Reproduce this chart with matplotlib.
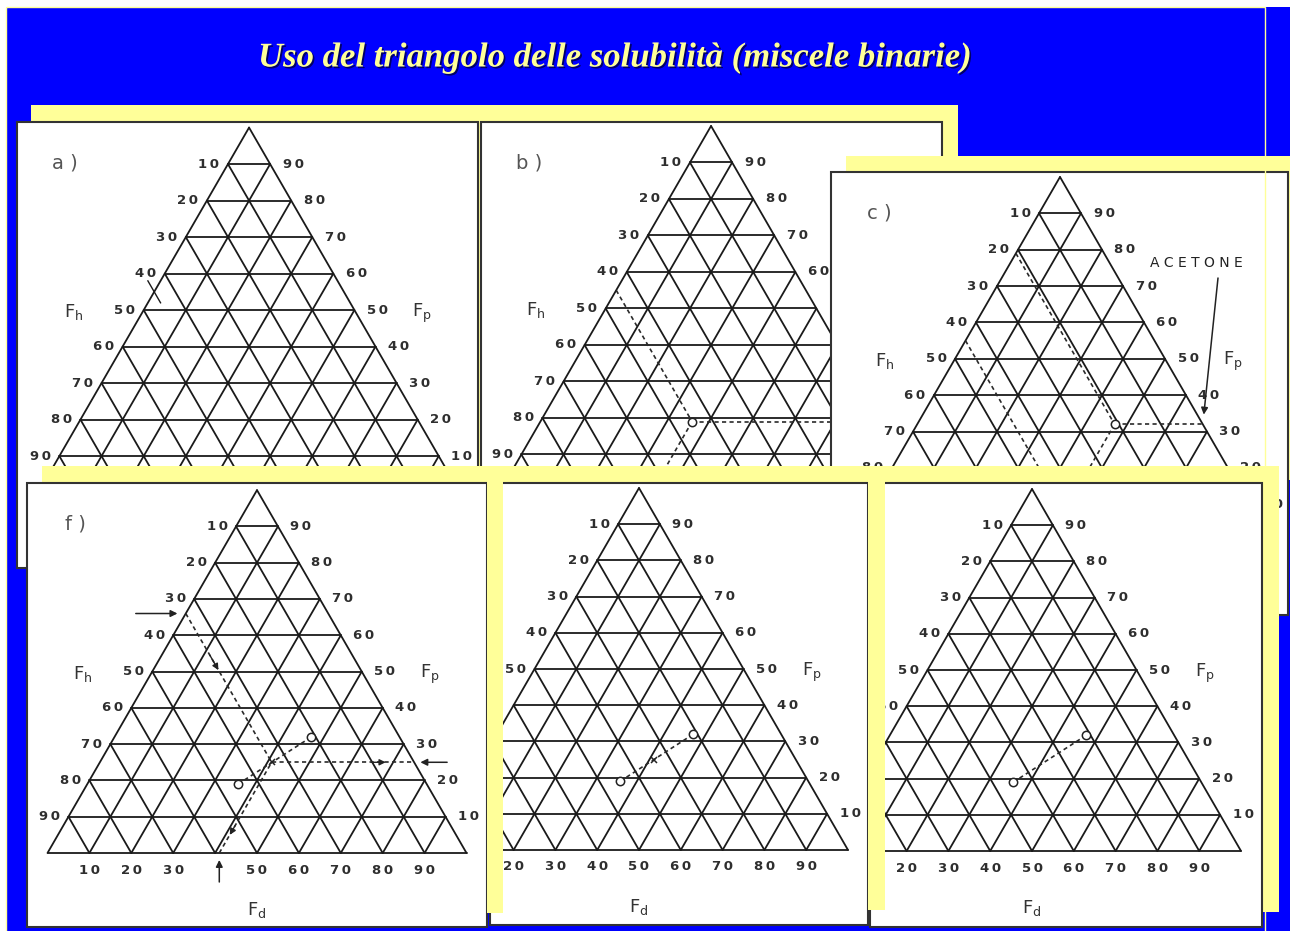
import numpy as np
import matplotlib.pyplot as plt
import matplotlib.patheffects as pe
from matplotlib.patches import Rectangle
from matplotlib.transforms import Affine2D, Bbox, TransformedBbox, offset_copy


# colours of the slide
BLUE = "#0000ff"
YELLOW = "#ffff99"
INK = "#1a1a1a"

TITLE = "Uso del triangolo delle solubilità (miscele binarie)"

# grid values along the three sides (percent)
ticks = [10, 20, 30, 40, 50, 60, 70, 80, 90]

# fractional parameters (Fd, Fp) of the points used in the examples, Fh = 100 - Fd - Fp
acetone = (47, 32)
solvent_2 = (36, 19)
mixture = (41, 25)


def cart(fd, fp):
    return fd + fp / 2.0, fp * np.sqrt(3) / 2.0


def fh(p):
    return 100 - p[0] - p[1]


fig = plt.figure(figsize=(12.9, 9.31), dpi=100)
ax = fig.add_axes([0, 0, 1, 1])
ax.set_xlim(0, 1290)
ax.set_ylim(931, 0)
ax.axis("off")

# slide background
ax.add_patch(Rectangle((6, 7), 1290, 930, facecolor=BLUE, edgecolor="none", zorder=0))
ax.add_patch(Rectangle((6, 7), 1259, 930, facecolor="none", edgecolor=YELLOW, lw=1.0, zorder=5.9))

ax.text(615, 58, TITLE, ha="center", va="center", fontsize=25, family="Liberation Serif",
        style="italic", weight="bold", color=YELLOW, zorder=11,
        path_effects=[pe.withSimplePatchShadow(offset=(1.2, -1.2), shadow_rgbFace="black", alpha=0.6)])


def yellow(x0, y0, x1, y1, z):
    ax.add_patch(Rectangle((x0, y0), x1 - x0, y1 - y0, facecolor=YELLOW, edgecolor="none", zorder=z))


def panel(box, z, base_left, side, letter=None, bottom=ticks, show_fh=True, show_fd=True,
          vis=(0, 1290)):
    x0, y0, x1, y1 = box
    rect = Rectangle((x0, y0), x1 - x0, y1 - y0, facecolor="white", edgecolor="#333333", lw=1.5, zorder=z)
    ax.add_patch(rect)
    s = side / 100.0
    T = Affine2D().scale(s, -s).translate(*base_left) + ax.transData
    arts = []

    def seg(p, q, **kw):
        (xa, ya), (xb, yb) = cart(*p), cart(*q)
        arts.extend(ax.plot([xa, xb], [ya, yb], transform=T, zorder=z + 0.1, **kw))

    grid = dict(color=INK, lw=1.3, solid_capstyle="round")
    for v in ticks:
        seg((0, v), (100 - v, v), **grid)
        seg((v, 0), (v, 100 - v), **grid)
        seg((100 - v, 0), (0, 100 - v), **grid)
    seg((0, 0), (100, 0), **grid)
    seg((100, 0), (0, 100), **grid)
    seg((0, 100), (0, 0), **grid)

    def label(p, txt, dx, dy, **kw):
        # only labels whose centre falls in the uncovered part of the panel
        cx = T.transform(cart(*p))[0]
        px = ax.transData.inverted().transform((cx + dx, 0))[0]
        if vis[0] - 8 <= px <= vis[1] + 8:
            arts.append(ax.text(*cart(*p), txt, transform=offset_copy(T, fig, x=dx, y=dy, units="dots"), **kw))

    num = dict(fontsize=9.5, weight="bold", color="#2e2e2e", ha="center", va="center", zorder=z + 0.2)
    for v in ticks:
        lab = f"{v // 10}\u2009{v % 10}"
        label((0, 100 - v), lab, -19, 0, **num)
        label((100 - v, v), lab, 23, 0, **num)
        if v in bottom:
            label((v, 0), lab, 0, -17, **num)

    big = dict(fontsize=13, color="#333333", ha="center", va="center", zorder=z + 0.2)
    if show_fh:
        label((0, 50), r"F$_\mathregular{h}$", -70, -2, **big)
    label((50, 50), r"F$_\mathregular{p}$", 68, -3, **big)
    if show_fd:
        label((50, 0), r"F$_\mathregular{d}$", 0, -57, **big)

    if letter:
        arts.append(ax.text(x0 + 48, y0 + 41, letter, fontsize=14, color="#555555",
                            ha="center", va="center", zorder=z + 0.2))
    return T, rect, arts


def dashed(T, z, p, q):
    (xa, ya), (xb, yb) = cart(*p), cart(*q)
    return ax.plot([xa, xb], [ya, yb], transform=T, color="#2a2a2a", lw=1.2,
                   linestyle=(0, (2.5, 2)), zorder=z + 0.3)


def circle(T, z, p):
    return ax.plot(*cart(*p), "o", transform=T, ms=6, mfc="white", mec="#222222", mew=1.1, zorder=z + 0.4)


def cross(T, z, p):
    return ax.plot(*cart(*p), "x", transform=T, ms=5, color="#222222", mew=1.1, zorder=z + 0.4)


def head(T, z, p, q, t0, t1):
    (xa, ya), (xb, yb) = cart(*p), cart(*q)
    a = (xa + (xb - xa) * t0, ya + (yb - ya) * t0)
    b = (xa + (xb - xa) * t1, ya + (yb - ya) * t1)
    return ax.annotate("", xy=b, xycoords=T, xytext=a, textcoords=T, zorder=z + 0.4,
                       arrowprops=dict(arrowstyle="-|>", color="#222222", lw=1.0,
                                       mutation_scale=9, shrinkA=0, shrinkB=0))


def clip(arts, rect):
    box = TransformedBbox(Bbox.from_extents(*rect.get_bbox().extents), ax.transData)
    for a in arts:
        if isinstance(a, list):
            clip(a, rect)
            continue
        a.set_clip_on(True)
        a.set_clip_box(box)
        if hasattr(a, "arrow_patch") and a.arrow_patch is not None:
            a.arrow_patch.set_clip_box(box)


# top row
yellow(31, 105, 958, 480, 1)

# a) empty grid
Ta, ra, arts = panel((17, 122, 478, 568), 2, (38.3, 492.6), 421.5, "a )", bottom=(), show_fd=False)
arts.extend(ax.plot(*zip(cart(-3, 58), cart(3, 52)), transform=Ta, color=INK, lw=1.0, zorder=2.3))
clip(arts, ra)

# b) second solvent
Tb, rb, arts = panel((481, 122, 942, 568), 3, (500.3, 491.0), 421.5, "b )", bottom=(), show_fd=False,
                     vis=(481, 831))
arts += [dashed(Tb, 3, (0, 100 - fh(solvent_2)), solvent_2),
         dashed(Tb, 3, solvent_2, (100 - solvent_2[1], solvent_2[1])),
         dashed(Tb, 3, solvent_2, (solvent_2[0], 0)),
         circle(Tb, 3, solvent_2)]
clip(arts, rb)

# c) acetone
yellow(846, 156, 1290, 480, 4)
Tc, rc, arts = panel((831, 172, 1288, 615), 5, (850.0, 540.7), 420, "c )", bottom=(90,), show_fd=False)
arts += [dashed(Tc, 5, (0, 100 - fh(acetone)), acetone),
         dashed(Tc, 5, acetone, (100 - acetone[1], acetone[1])),
         dashed(Tc, 5, acetone, (acetone[0], 0)),
         dashed(Tc, 5, (0, 100 - fh(solvent_2)), solvent_2),
         circle(Tc, 5, acetone)]
arts.append(ax.text(1196, 263, "A C E T O N E", fontsize=10, color="#222222",
                    ha="center", va="center", zorder=5.5))
arts.append(ax.annotate("", xy=cart(100 - acetone[1], acetone[1]), xycoords=Tc,
                        xytext=(1218, 278), textcoords="data", zorder=5.5,
                        arrowprops=dict(arrowstyle="-|>", color="#222222", lw=1.1,
                                        mutation_scale=10, shrinkA=0, shrinkB=7)))
clip(arts, rc)

# bottom row
yellow(42, 466, 1279, 912, 6)

# f) mixture of the two solvents
Tf, rf, arts = panel((27, 483, 487, 927), 7, (47.5, 853.0), 419, "f )",
                     bottom=[v for v in ticks if v != 40])
left_pt = (0, 100 - fh(mixture))
right_pt = (100 - mixture[1], mixture[1])
base_pt = (mixture[0], 0)
arts += [dashed(Tf, 7, left_pt, mixture), dashed(Tf, 7, mixture, right_pt),
         dashed(Tf, 7, base_pt, mixture), dashed(Tf, 7, solvent_2, acetone),
         circle(Tf, 7, acetone), circle(Tf, 7, solvent_2), cross(Tf, 7, mixture),
         head(Tf, 7, left_pt, mixture, 0.28, 0.38),
         head(Tf, 7, mixture, right_pt, 0.70, 0.80),
         head(Tf, 7, mixture, base_pt, 0.70, 0.80)]
outer = dict(arrowstyle="-|>", color="#222222", lw=1.1, mutation_scale=10, shrinkA=0)
for pt, off, shrink in [(left_pt, (-50, 0), 6), (right_pt, (33, 0), 4.5), (base_pt, (0, -29), 5)]:
    arts.append(ax.annotate("", xy=cart(*pt), xycoords=Tf, xytext=off, textcoords="offset pixels",
                            zorder=7.5, arrowprops=dict(shrinkB=shrink, **outer)))
clip(arts, rf)

# d) tie line with mixture
Td, rd, arts = panel((490, 483, 868, 925), 8, (430.0, 850.0), 418, show_fh=False, vis=(503, 868))
arts += [dashed(Td, 8, solvent_2, acetone), circle(Td, 8, acetone),
         circle(Td, 8, solvent_2), cross(Td, 8, mixture)]
clip(arts, rd)

# e) tie line only
Te, re, arts = panel((870, 483, 1262, 927), 9, (823.0, 851.0), 418, show_fh=False, vis=(885, 1262))
arts += [dashed(Te, 9, solvent_2, acetone), circle(Te, 9, acetone), circle(Te, 9, solvent_2)]
clip(arts, re)

# strips of the backing frame over the left edges of d) and e)
yellow(487, 466, 503, 913, 10)
yellow(868, 466, 885, 910, 10)

fig.savefig("out.png", dpi=100, facecolor="white")
